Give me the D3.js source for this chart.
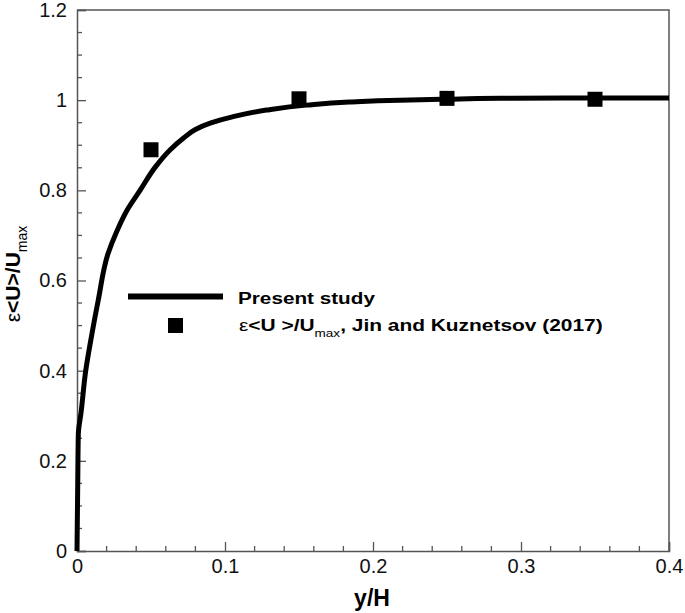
<!DOCTYPE html>
<html><head><meta charset="utf-8">
<script src="https://cdn.jsdelivr.net/npm/d3@7"></script>
<style>body{margin:0;background:#fff}svg{display:block;font-family:Arial,"Liberation Sans",sans-serif}</style>
</head><body>
<script>
const curveX = [0, 0.0005, 0.0009, 0.0027, 0.0059, 0.010, 0.0144, 0.021, 0.027, 0.034, 0.0426, 0.053, 0.063, 0.072, 0.08, 0.09, 0.105, 0.128, 0.155, 0.184, 0.218, 0.25, 0.286, 0.33, 0.4];
const curveY = [0, 0.15, 0.26, 0.306, 0.40, 0.48, 0.557, 0.66, 0.71, 0.757, 0.80, 0.852, 0.89, 0.916, 0.935, 0.949, 0.963, 0.978, 0.989, 0.996, 1.0, 1.002, 1.004, 1.005, 1.005];
const expX = [0.05, 0.15, 0.25, 0.35];
const expY = [0.89, 1.003, 1.004, 1.002];
const xTicks = [0, 0.1, 0.2, 0.3, 0.4];
const yTicks = [0, 0.2, 0.4, 0.6, 0.8, 1, 1.2];
const legendLabels = ["Present study", "Jin and Kuznetsov (2017)"];

const W = 685, H = 613;
const m = {l: 77, r: 16, t: 10, b: 62};
const svg = d3.select("body").append("svg").attr("width", W).attr("height", H);
const x = d3.scaleLinear().domain([0, 0.4]).range([m.l, W - m.r]);
const y = d3.scaleLinear().domain([0, 1.2]).range([H - m.b, m.t]);
const axisCol = "#555";

const xMinor = d3.range(0, 0.4001, 0.02).filter(v => Math.abs(v * 10 - Math.round(v * 10)) > 1e-6);
const yMinor = d3.range(0, 1.2001, 0.05).filter(v => Math.abs(v * 5 - Math.round(v * 5)) > 1e-6);

const gx = svg.append("g").attr("transform", `translate(0,${y(0)})`)
  .call(d3.axisBottom(x).tickValues(xTicks).tickFormat(d => +d.toFixed(2)).tickSize(-9).tickPadding(8));
const gy = svg.append("g").attr("transform", `translate(${x(0)},0)`)
  .call(d3.axisLeft(y).tickValues(yTicks).tickFormat(d => +d.toFixed(2)).tickSize(-9).tickPadding(10));
[gx, gy].forEach(g => {
  g.select(".domain").attr("stroke", axisCol).attr("stroke-width", 1.5);
  g.selectAll(".tick line").attr("stroke", axisCol).attr("stroke-width", 1.3);
  g.selectAll("text").attr("font-size", 20).attr("fill", "#111").attr("font-family", "Arial, 'Liberation Sans', sans-serif");
});
svg.append("g").selectAll("line").data(xMinor).join("line")
  .attr("x1", d => x(d)).attr("x2", d => x(d)).attr("y1", y(0)).attr("y2", y(0) - 5)
  .attr("stroke", axisCol).attr("stroke-width", 1.3);
svg.append("g").selectAll("line").data(yMinor).join("line")
  .attr("x1", x(0)).attr("x2", x(0) + 5).attr("y1", d => y(d)).attr("y2", d => y(d))
  .attr("stroke", axisCol).attr("stroke-width", 1.3);
svg.append("path").attr("d", `M${x(0)},${y(1.2)}H${x(0.4)}V${y(0)}`).attr("fill", "none").attr("stroke", axisCol).attr("stroke-width", 1.5);

// curve
const pts = curveX.map((v, i) => [v, curveY[i]]);
svg.append("path").datum(pts)
  .attr("d", d3.line().x(d => x(d[0])).y(d => y(d[1])).curve(d3.curveMonotoneY))
  .attr("fill", "none").attr("stroke", "#000").attr("stroke-width", 5).attr("stroke-linejoin", "round");

// squares
const s = 15;
svg.append("g").selectAll("rect").data(expX.map((v, i) => [v, expY[i]])).join("rect")
  .attr("x", d => x(d[0]) - s / 2).attr("y", d => y(d[1]) - s / 2).attr("width", s).attr("height", s).attr("fill", "#000");

// legend
function stretch(sel, x0, targetW) {
  const w = sel.node().getComputedTextLength();
  const k = targetW / w;
  sel.attr("x", 0).attr("transform", `translate(${x0},0) scale(${k},1)`);
}
svg.append("line").attr("x1", 128).attr("x2", 223).attr("y1", 296.5).attr("y2", 296.5).attr("stroke", "#000").attr("stroke-width", 6);
const l1 = svg.append("text").attr("y", 304).attr("font-size", 17).attr("font-weight", "bold").text(legendLabels[0]);
stretch(l1, 238, 137);
svg.append("rect").attr("x", 168).attr("y", 318).attr("width", 15).attr("height", 15).attr("fill", "#000");
const lt = svg.append("text").attr("y", 331).attr("font-size", 17).attr("font-weight", "bold");
lt.append("tspan").attr("font-weight", "normal").text("ε");
lt.append("tspan").text("<U >/U");
lt.append("tspan").attr("font-size", 11).attr("font-weight", "normal").attr("dy", 6).text("max");
lt.append("tspan").attr("dy", -6).text(", " + legendLabels[1]);
stretch(lt, 239, 364);

// axis titles
svg.append("text").attr("x", 372).attr("y", 606).attr("text-anchor", "middle").attr("font-size", 23).attr("font-weight", "bold").text("y/H");
const yt = svg.append("text").attr("transform", "translate(20,274) rotate(-90)").attr("text-anchor", "middle").attr("font-size", 21).attr("font-weight", "bold");
yt.append("tspan").attr("font-weight", "normal").text("ε");
yt.append("tspan").text("<U>/U");
yt.append("tspan").attr("font-size", 14).attr("font-weight", "normal").attr("dy", 7).text("max");
</script>
</body></html>
